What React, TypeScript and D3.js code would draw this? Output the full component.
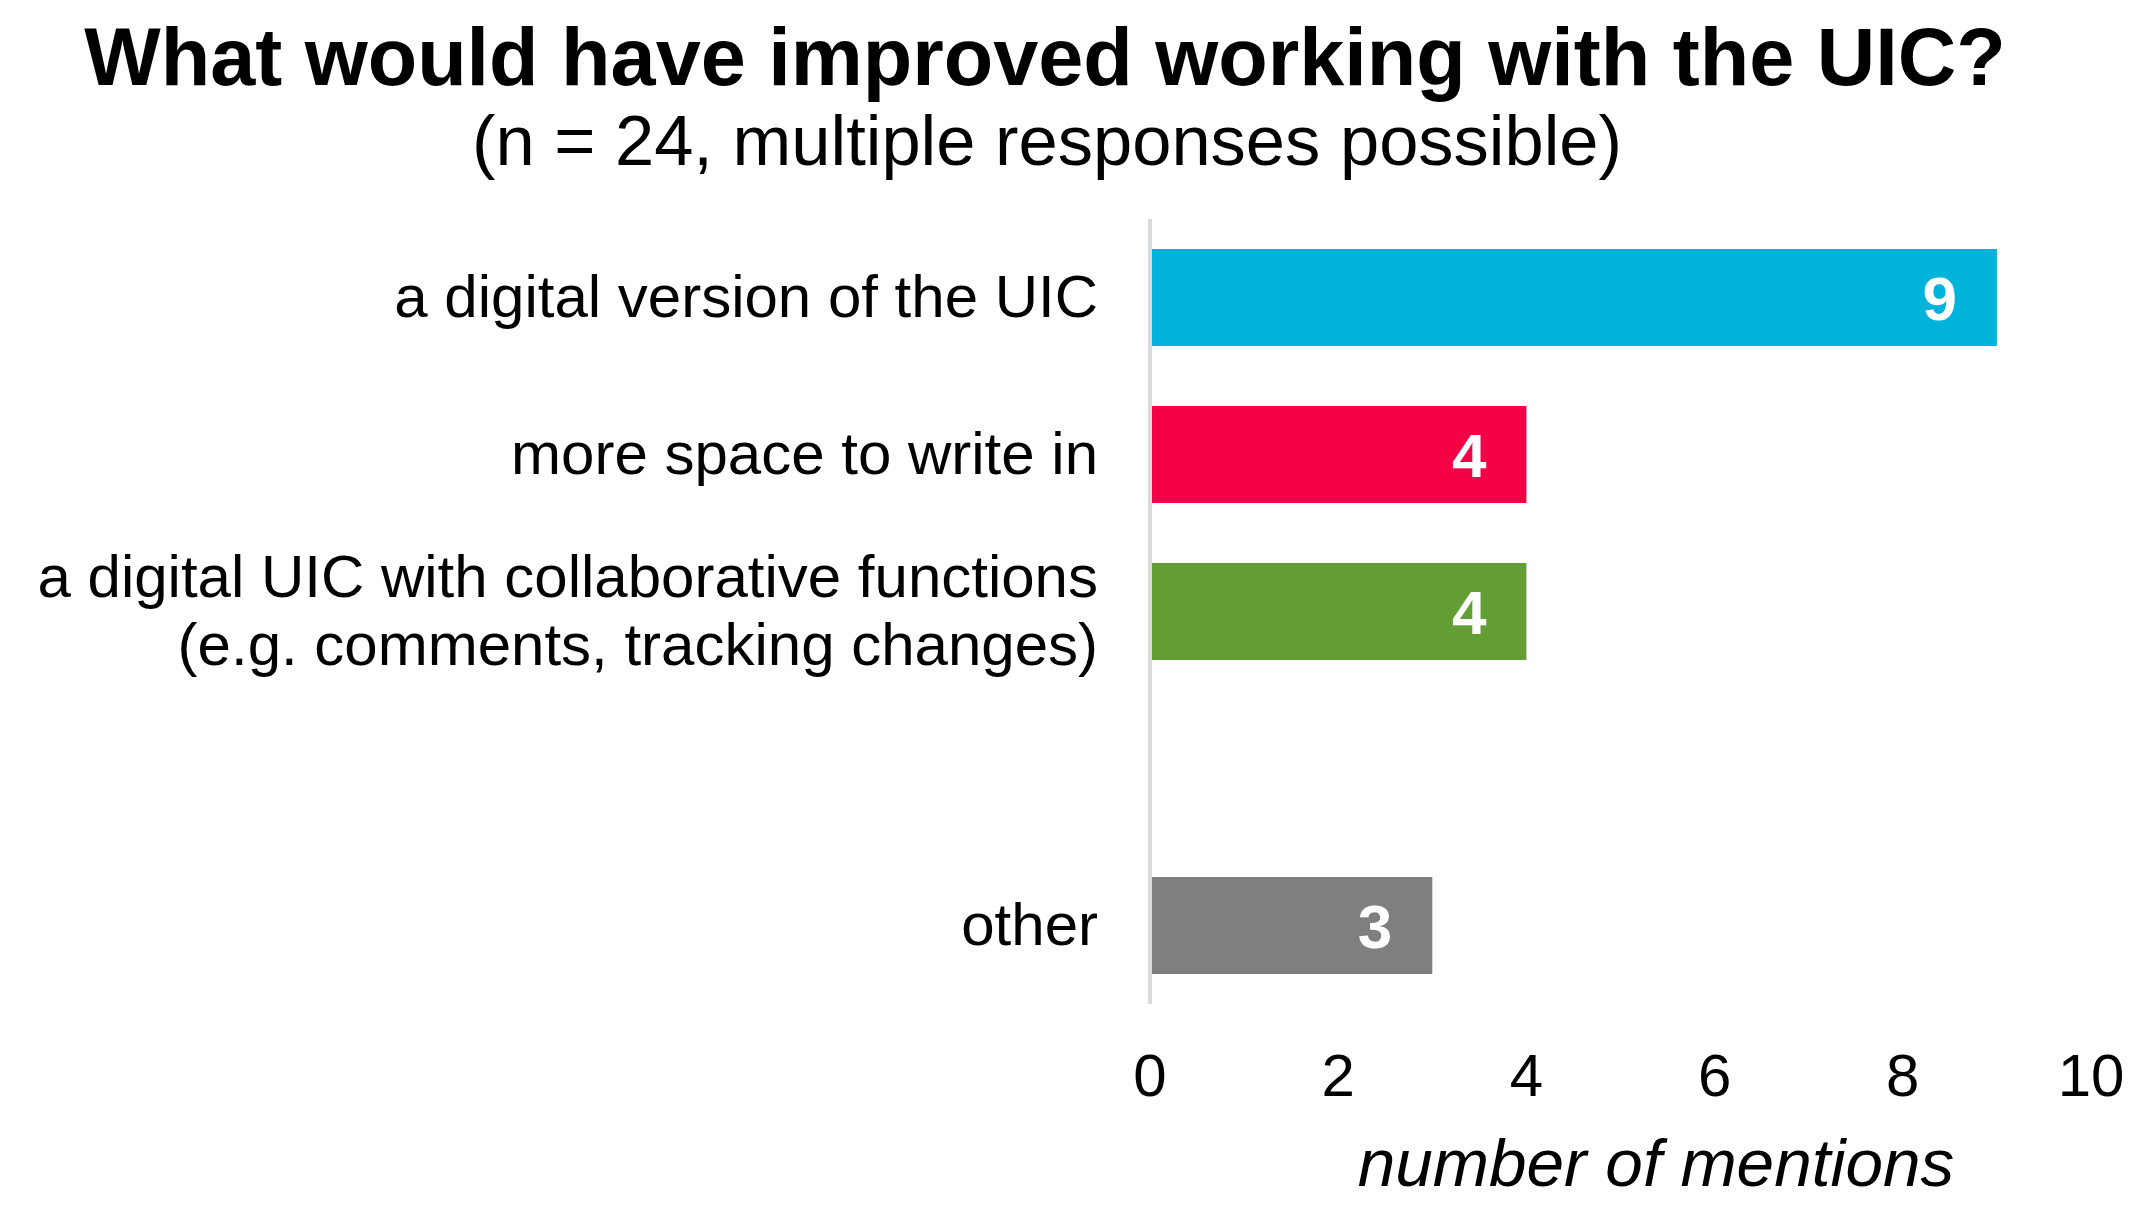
import React from "react";
import * as d3 from "d3";

const categories: string[][] = [
  ["a digital version of the UIC"],
  ["more space to write in"],
  ["a digital UIC with collaborative functions", "(e.g. comments, tracking changes)"],
  [],
  ["other"],
];
const values: (number | null)[] = [9, 4, 4, null, 3];
const barColors: string[] = ["#00B3DB", "#F50148", "#639E34", "", "#7F7F7F"];
const xTicks: number[] = [0, 2, 4, 6, 8, 10];
const title = "What would have improved working with the UIC?";
const subtitle = "(n = 24, multiple responses possible)";
const xAxisTitle = "number of mentions";

const W = 2155;
const H = 1218;
const FONT = "'Liberation Sans', Arial, Helvetica, sans-serif";

export default function App() {
  const x = d3.scaleLinear().domain([0, 10]).range([1150, 2091]);
  const keys = categories.map((_, i) => String(i));
  const y = d3
    .scaleBand<string>()
    .domain(keys)
    .range([219, 1004])
    .paddingInner(0.382)
    .paddingOuter(0.191);

  const labelFs = 60;
  const lineGap = 68;

  return (
    <svg
      width={W}
      height={H}
      viewBox={`0 0 ${W} ${H}`}
      style={{ position: "absolute", left: 0, top: 0, display: "block", background: "#fff" }}
      fontFamily={FONT}
    >
      <rect x={0} y={0} width={W} height={H} fill="#fff" />
      <text x={1045} y={85} textAnchor="middle" fontSize={81} fontWeight="bold" fill="#000">
        {title}
      </text>
      <text x={1047} y={165} textAnchor="middle" fontSize={70.5} fill="#000">
        {subtitle}
      </text>

      {values.map((v, i) => {
        if (v === null) return null;
        const yy = y(String(i))!;
        const bw = y.bandwidth();
        const cy = yy + bw / 2;
        return (
          <g key={i}>
            <rect x={x(0)} y={yy} width={x(v) - x(0)} height={bw} fill={barColors[i]} />
            <text
              x={x(v) - 40}
              y={cy + 0.38 * labelFs}
              textAnchor="end"
              fontSize={62}
              fontWeight="bold"
              fill="#fff"
            >
              {v}
            </text>
          </g>
        );
      })}

      {categories.map((lines, i) => {
        if (lines.length === 0) return null;
        const cy = y(String(i))! + y.bandwidth() / 2;
        const n = lines.length;
        return (
          <g key={"l" + i}>
            {lines.map((ln, j) => (
              <text
                key={j}
                x={1098}
                y={cy + 0.32 * labelFs + (j - (n - 1) / 2) * lineGap}
                textAnchor="end"
                fontSize={labelFs}
                fill="#000"
              >
                {ln}
              </text>
            ))}
          </g>
        );
      })}

      <line x1={x(0)} x2={x(0)} y1={219} y2={1004} stroke="#D9D9D9" strokeWidth={4} />

      {xTicks.map((t) => (
        <text key={t} x={x(t)} y={1096} textAnchor="middle" fontSize={60} fill="#000">
          {t}
        </text>
      ))}

      <text x={1656} y={1186} textAnchor="middle" fontSize={67.5} fontStyle="italic" fill="#000">
        {xAxisTitle}
      </text>
    </svg>
  );
}
